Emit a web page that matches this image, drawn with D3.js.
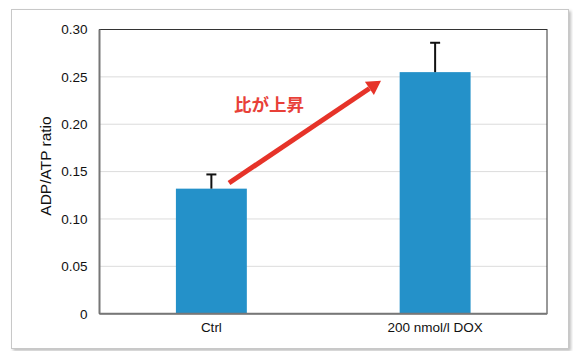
<!DOCTYPE html>
<html><head><meta charset="utf-8">
<script src="https://cdn.jsdelivr.net/npm/d3@7"></script>
<style>body{margin:0;background:#fff;}svg{display:block;}</style>
</head><body>
<script>
const categories = ["Ctrl", "200 nmol/l DOX"];
const values = [0.132, 0.255];
const errors = [0.015, 0.031];
const yTicks = [0, 0.05, 0.10, 0.15, 0.20, 0.25, 0.30];
const yTickLabels = ["0", "0.05", "0.10", "0.15", "0.20", "0.25", "0.30"];
const annotation = "比が上昇";
const arrowStartValue = 0.138;
const arrowEndValue = 0.246;

const W = 573, H = 351;
const m = {left: 99.5, right: 547, top: 29.5, bottom: 313.7};
const FONT = "Liberation Sans, Arial, sans-serif";
const svg = d3.select("body").append("svg").attr("width", W).attr("height", H);
const defs = svg.append("defs");
const f = defs.append("filter").attr("id","sh").attr("x","-5%").attr("y","-5%").attr("width","110%").attr("height","110%");
f.append("feDropShadow").attr("dx",2).attr("dy",2).attr("stdDeviation",1.5).attr("flood-color","#000").attr("flood-opacity",0.25);

svg.append("rect").attr("x",11.5).attr("y",9.5).attr("width",557).attr("height",339)
  .attr("fill","#fff").attr("stroke","#c8c8c8").attr("stroke-width",1).attr("filter","url(#sh)");

const x = d3.scaleBand().domain(categories).range([m.left, m.right]).paddingInner(0.683).paddingOuter(0.3415);
const y = d3.scaleLinear().domain([0, 0.30]).range([m.bottom, m.top]);

// grid
svg.append("g").selectAll("line").data(yTicks.slice(1,-1)).join("line")
  .attr("x1", m.left).attr("x2", m.right).attr("y1", d=>y(d)).attr("y2", d=>y(d))
  .attr("stroke","#dcdcdc").attr("stroke-width",1);

// bars
svg.append("g").selectAll("rect").data(values).join("rect")
  .attr("x",(d,i)=>x(categories[i])).attr("width",x.bandwidth())
  .attr("y",d=>y(d)).attr("height",d=>y(0)-y(d)).attr("fill","#2491c9");

// error bars
const eb = svg.append("g").attr("stroke","#111").attr("stroke-width",2);
values.forEach((v,i)=>{
  const cx = x(categories[i]) + x.bandwidth()/2;
  eb.append("line").attr("x1",cx).attr("x2",cx).attr("y1",y(v)).attr("y2",y(v+errors[i]));
  eb.append("line").attr("x1",cx-5).attr("x2",cx+5).attr("y1",y(v+errors[i])).attr("y2",y(v+errors[i]));
});

// plot frame
svg.append("rect").attr("x",m.left).attr("y",m.top).attr("width",m.right-m.left).attr("height",m.bottom-m.top)
  .attr("fill","none").attr("stroke","#333").attr("stroke-width",1);
svg.append("line").attr("x1",m.left).attr("x2",m.left).attr("y1",m.top).attr("y2",m.bottom).attr("stroke","#777").attr("stroke-width",2);
svg.append("line").attr("x1",m.left).attr("x2",m.right).attr("y1",m.bottom).attr("y2",m.bottom).attr("stroke","#777").attr("stroke-width",2);

// y axis labels
const yAxis = d3.axisLeft(y).tickValues(yTicks).tickFormat((d,i)=>yTickLabels[i]).tickSize(0).tickPadding(12);
const ga = svg.append("g").attr("transform",`translate(${m.left},0)`).call(yAxis);
ga.select(".domain").remove();
ga.selectAll("text").attr("font-family",FONT).attr("font-size",13.5).attr("fill","#111");

// x axis labels
const xAxis = d3.axisBottom(x).tickSize(0).tickPadding(9);
const gx = svg.append("g").attr("transform",`translate(0,${m.bottom})`).call(xAxis);
gx.select(".domain").remove();
gx.selectAll("text").attr("font-family",FONT).attr("font-size",13.5).attr("fill","#111");

// y title
svg.append("text").attr("transform",`translate(51,166) rotate(-90)`)
  .attr("text-anchor","middle").attr("font-family",FONT).attr("font-size",15.5).attr("fill","#111")
  .text("ADP/ATP ratio");

// arrow
const p1 = [229, y(arrowStartValue)];
const p2 = [381, y(arrowEndValue)];
const ang = Math.atan2(p2[1]-p1[1], p2[0]-p1[0]);
const headLen = 14, headW = 8;
const base = [p2[0]-headLen*Math.cos(ang), p2[1]-headLen*Math.sin(ang)];
svg.append("line").attr("x1",p1[0]).attr("y1",p1[1]).attr("x2",base[0]).attr("y2",base[1])
  .attr("stroke","#e63329").attr("stroke-width",5);
const nx = -Math.sin(ang), ny = Math.cos(ang);
svg.append("path").attr("d",`M${p2[0]},${p2[1]}L${base[0]+nx*headW},${base[1]+ny*headW}L${base[0]-nx*headW},${base[1]-ny*headW}Z`)
  .attr("fill","#e63329");

svg.append("text").attr("x",234).attr("y",111).attr("font-family","Noto Sans CJK JP, sans-serif")
  .attr("font-weight","bold").attr("font-size",17.5).attr("fill","#e84038").text(annotation);
</script>
</body></html>
